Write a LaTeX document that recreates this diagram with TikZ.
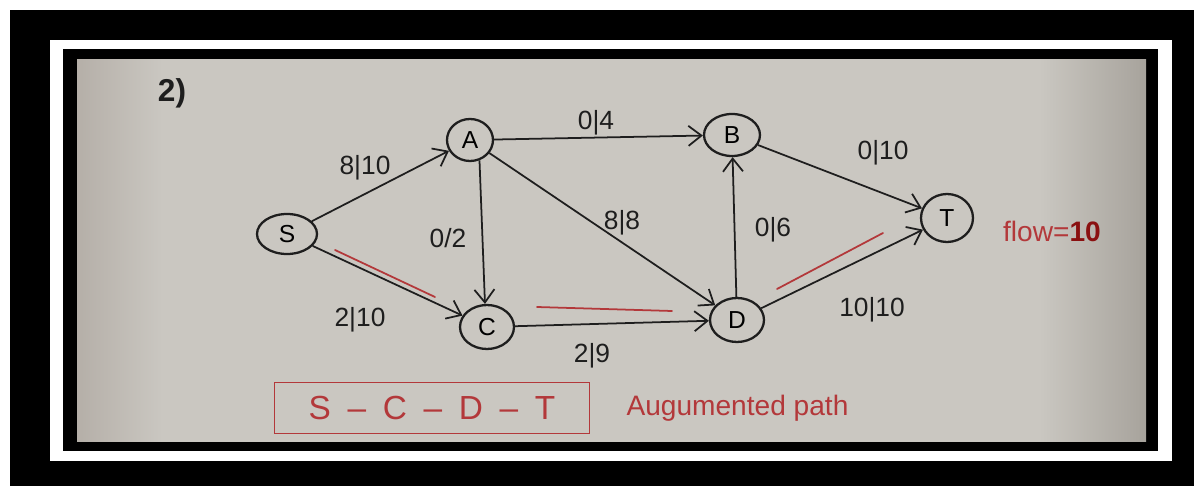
\documentclass[tikz,border=0pt]{standalone}
\usepackage{fontspec}
\setmainfont{Liberation Sans}
\usetikzlibrary{arrows.meta, positioning, shapes.geometric}

\definecolor{ink}{HTML}{1E1E1E}
\definecolor{paper}{HTML}{CAC7C1}
\definecolor{paperdark}{HTML}{B5AFA8}
\definecolor{paperright}{HTML}{A7A39C}
\definecolor{pen}{HTML}{B3383A}
\definecolor{penbold}{HTML}{8A1010}
\pgfdeclarehorizontalshading{paperwash}{100bp}{color(0bp)=(paperdark); color(25bp)=(paperdark);
  color(29bp)=(paper); color(70bp)=(paper); color(75bp)=(paperright); color(100bp)=(paperright)}

\begin{document}
\begin{tikzpicture}[x=0.02cm, y=-0.02cm,
  vertex/.style={draw=ink, ellipse, line width=1.3pt, inner sep=0pt,
    minimum width=1.08cm, minimum height=0.88cm, font=\fontsize{14}{14}\selectfont},
  flow/.style={draw=ink, line width=1pt, -{Straight Barb[length=2.6mm, width=4mm]}},
  lbl/.style={text=ink, font=\fontsize{15}{15}\selectfont, inner sep=1pt},
  redstroke/.style={draw=pen, line width=1pt, line cap=round},
  redtext/.style={text=pen, font=\fontsize{16}{16}\selectfont}]
\useasboundingbox (0,0) rectangle (1194,486);

% frame round the photo
\fill[white] (0,0) rectangle (1194,486);
\fill[black] (10,10) rectangle (1194,486);
\fill[white] (50,40) rectangle (1172,461);
\fill[black] (63,49) rectangle (1158,451);
\shade[shading=paperwash] (77,60) rectangle (1146,441);

\node[lbl, font=\fontsize{18}{18}\selectfont\bfseries] (num) at (172,93) {2)};

% vertices
\node[vertex, minimum width=1.2cm, minimum height=0.8cm] (S) at (287,234) {S};
\node[vertex, minimum width=0.92cm, minimum height=0.84cm] (A) at (470,140) {A};
\node[vertex, minimum width=1.12cm, minimum height=0.84cm] (B) at (732,135) {B};
\node[vertex] (C) at (487,327) {C};
\node[vertex] (D) at (737,320) {D};
\node[vertex, minimum width=1.04cm, minimum height=0.96cm] (T) at (947,218) {T};

% edges
\draw[flow] (S) -- (A);
\draw[flow] (S) -- (C);
\draw[flow] (A) -- (B);
\draw[flow] (A.-65) -- (C.95);
\draw[flow] (A) -- (D);
\draw[flow] (B) -- (T);
\draw[flow] (C) -- (D);
\draw[flow] (D) -- (B);
\draw[flow] (D) -- (T);

% flow / capacity
\node[lbl] (fSA) at (365,168) {8|10};
\node[lbl] (fSC) at (360,320) {2|10};
\node[lbl] (fAB) at (596,123) {0|4};
\node[lbl] (fAC) at (448,238) {0/2};
\node[lbl] (fAD) at (622,223) {8|8};
\node[lbl] (fDB) at (773,230) {0|6};
\node[lbl] (fBT) at (883,153) {0|10};
\node[lbl] (fDT) at (872,310) {10|10};
\node[lbl] (fCD) at (592,356) {2|9};

% augmenting path in red
\coordinate (sc1) at (335,250);
\coordinate (sc2) at (435,297);
\coordinate (cd1) at (537,307);
\coordinate (cd2) at (672,311);
\coordinate (dt1) at (777,289);
\coordinate (dt2) at (883,233);
\draw[redstroke] (sc1) -- (sc2);
\draw[redstroke] (cd1) -- (cd2);
\draw[redstroke] (dt1) -- (dt2);

\node[redtext] (flow) at (1052,231) {flow=\textcolor{penbold}{\textbf{10}}};
\node[redtext, draw=pen, line width=1pt, minimum width=6.3cm, minimum height=1.02cm,
  font=\fontsize{19}{19}\selectfont] (path) at (432,408)
  {S\enspace--\enspace C\enspace--\enspace D\enspace--\enspace T};
\node[redtext, right=6mm of path] (aug) {Augumented path};
\end{tikzpicture}
\end{document}
